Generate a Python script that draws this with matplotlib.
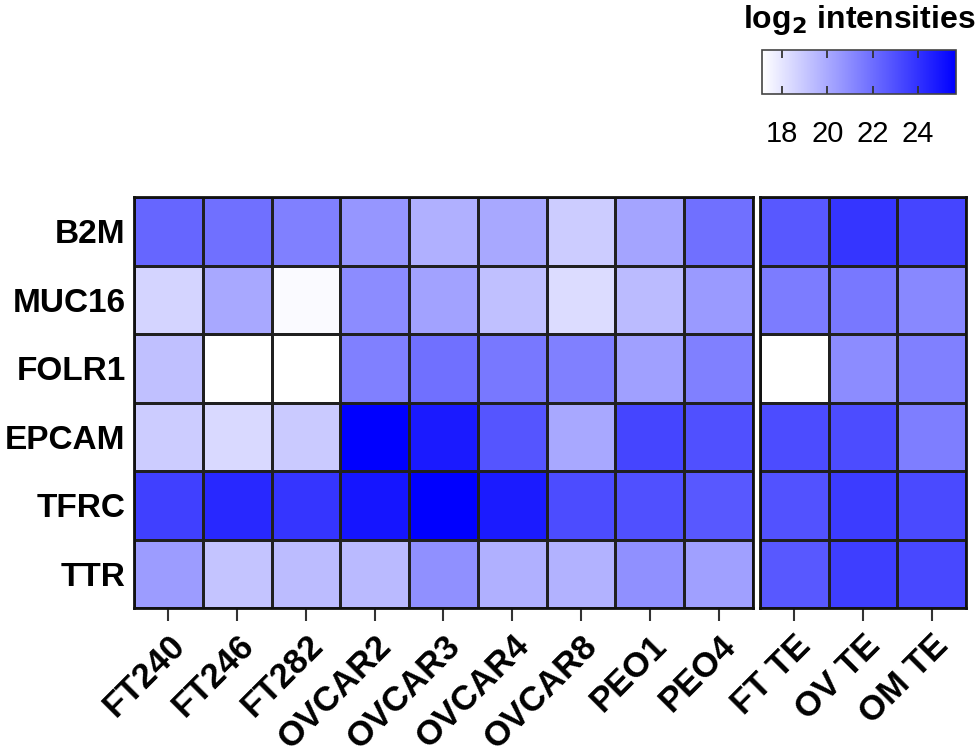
import numpy as np
import matplotlib
matplotlib.use("Agg")
import matplotlib.pyplot as plt
import matplotlib.transforms as mtrans
from matplotlib.colors import LinearSegmentedColormap, Normalize

plt.rcParams['font.family'] = ['Liberation Sans', 'DejaVu Sans']

rows = ["B2M", "MUC16", "FOLR1", "EPCAM", "TFRC", "TTR"]
cols_left = ["FT240", "FT246", "FT282", "OVCAR2", "OVCAR3", "OVCAR4", "OVCAR8", "PEO1", "PEO4"]
cols_right = ["FT TE", "OV TE", "OM TE"]

vals_left = np.array([
    [22.26, 21.92, 21.38, 20.64, 19.76, 20.03, 18.82, 20.17, 21.92],
    [18.55, 20.03, 17.27, 20.98, 20.24, 19.22, 18.28, 19.39, 20.51],
    [19.22, 16.90, 16.90, 21.38, 21.92, 21.65, 21.38, 20.30, 21.38],
    [18.82, 18.41, 18.89, 25.70, 24.82, 22.83, 20.03, 23.37, 23.00],
    [23.54, 24.35, 23.91, 24.99, 25.70, 24.76, 23.14, 23.00, 22.73],
    [20.44, 19.09, 19.36, 19.43, 20.84, 19.76, 19.70, 20.84, 20.30],
])
vals_right = np.array([
    [22.73, 23.91, 23.37],
    [21.52, 21.65, 21.11],
    [16.90, 20.98, 21.38],
    [23.14, 23.14, 21.45],
    [22.93, 23.68, 23.20],
    [22.73, 23.61, 23.27],
])

cbar_ticks = [18, 20, 22, 24]
vmin, vmax = 17.1, 25.7

cmap = LinearSegmentedColormap.from_list("wb", ["#FFFFFF", "#0000FF"])
norm = Normalize(vmin=vmin, vmax=vmax, clip=True)

W, H = 979, 756
fig = plt.figure(figsize=(W / 100, H / 100), dpi=100)

def ax_px(x0, y0, x1, y1):
    return fig.add_axes([x0 / W, 1 - y1 / H, (x1 - x0) / W, (y1 - y0) / H])

axL = ax_px(134, 197, 753, 608)
axR = ax_px(760, 197, 966, 608)

offset = mtrans.ScaledTranslation(-6 / 100, 3 / 100, fig.dpi_scale_trans)

for ax, data, cols, showy in [(axL, vals_left, cols_left, True), (axR, vals_right, cols_right, False)]:
    ax.pcolormesh(data, cmap=cmap, norm=norm, edgecolors="#202020", linewidth=1.0)
    ax.set_xlim(0, data.shape[1])
    ax.set_ylim(data.shape[0], 0)
    ax.set_xticks(np.arange(data.shape[1]) + 0.5)
    ax.set_xticklabels(cols, rotation=45, ha="right", va="top", rotation_mode="anchor",
                       fontsize=25, fontweight="bold")
    for lab in ax.get_xticklabels():
        lab.set_transform(lab.get_transform() + offset)
    ax.tick_params(axis="x", length=9, width=1.5, color="#333333", pad=6)
    if showy:
        ax.set_yticks(np.arange(data.shape[0]) + 0.5)
        ax.set_yticklabels(rows, fontsize=24, fontweight="bold")
        ax.tick_params(axis="y", length=0, pad=6)
    else:
        ax.set_yticks([])
    for s in ax.spines.values():
        s.set_linewidth(2.0)
        s.set_color("#111111")

# colorbar
cax = ax_px(762, 50, 956, 94)
sm = matplotlib.cm.ScalarMappable(norm=Normalize(vmin=vmin, vmax=vmax), cmap=cmap)
cb = fig.colorbar(sm, cax=cax, orientation="horizontal")
cb.set_ticks(cbar_ticks)
cb.ax.tick_params(axis="x", direction="in", length=6, width=1.3, color="#333333",
                  top=True, bottom=True, labelsize=21, pad=19)
cb.outline.set_linewidth(1.2)
cb.outline.set_edgecolor("#444444")

fig.text(859 / W, 1 - 20 / H, r"log$_\mathbf{2}$ intensities", ha="center", va="center",
         fontsize=23, fontweight="bold")

fig.savefig("out.png", dpi=100)
